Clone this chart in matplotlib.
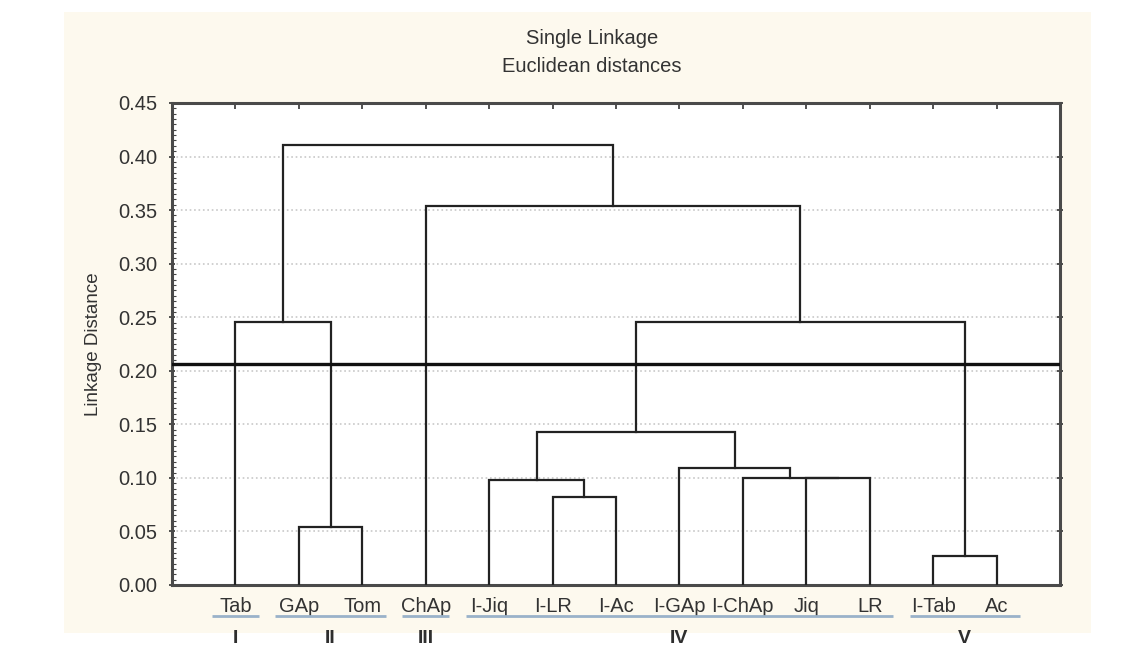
import numpy as np
import matplotlib
matplotlib.use("Agg")
import matplotlib.pyplot as plt
from matplotlib.patches import Rectangle
from matplotlib.transforms import blended_transform_factory

plt.rcParams['font.family'] = ['Liberation Sans', 'DejaVu Sans']

# leaves in dendrogram order
leaf_labels = ['Tab', 'GAp', 'Tom', 'ChAp', 'I-Jiq', 'I-LR', 'I-Ac',
               'I-GAp', 'I-ChAp', 'Jiq', 'LR', 'I-Tab', 'Ac']

# merges: (left node, right node, linkage distance); new nodes get ids 13, 14, ...
merge_left = [1, 0, 5, 4, 9, 8, 7, 16, 11, 20, 3, 14]
merge_right = [2, 13, 6, 15, 10, 17, 18, 19, 12, 21, 22, 23]
merge_height = [0.054, 0.2455, 0.082, 0.098, 0.0995, 0.0995, 0.109,
                0.143, 0.0275, 0.2455, 0.354, 0.411]

cut_height = 0.206

group_names = ['I', 'II', 'III', 'IV', 'V']
group_first = [0, 1, 3, 4, 11]
group_last = [0, 2, 3, 10, 12]

y_ticks = [0.00, 0.05, 0.10, 0.15, 0.20, 0.25, 0.30, 0.35, 0.40, 0.45]

W, H = 1135, 648
fig = plt.figure(figsize=(W / 100, H / 100), dpi=100)
fig.patch.set_facecolor('white')

# cream panel behind the plot
fig.patches.append(Rectangle((64 / W, 1 - 633 / H), (1091 - 64) / W, (633 - 12) / H,
                             transform=fig.transFigure, facecolor='#fdf9ee',
                             edgecolor='none', zorder=-10))

ax = fig.add_axes([172 / W, 1 - 585 / H, (1060 - 172) / W, (585 - 103) / H])
ax.set_facecolor('white')

# build the tree
n = len(leaf_labels)
xpos = {i: i + 1.0 for i in range(n)}
hpos = {i: 0.0 for i in range(n)}
line_col = '#222222'
for k, (a, b, h) in enumerate(zip(merge_left, merge_right, merge_height)):
    node = n + k
    ax.plot([xpos[a], xpos[a], xpos[b], xpos[b]], [hpos[a], h, h, hpos[b]],
            color=line_col, lw=1.6, solid_joinstyle='miter', zorder=3)
    xpos[node] = (xpos[a] + xpos[b]) / 2
    hpos[node] = h

ax.axhline(cut_height, color='#111111', lw=2.4, zorder=4)

ax.set_xlim(0, n + 1)
ax.set_ylim(0, 0.45)
ax.set_yticks(y_ticks)
ax.set_yticklabels(['%.2f' % v for v in y_ticks])
ax.set_yticks(np.arange(0, 0.4501, 0.005), minor=True)
ax.yaxis.grid(True, which='major', color='#c8c8c8', linestyle=':', lw=1.2, zorder=0)

ax.set_xticks(np.arange(1, n + 1))
ax.set_xticklabels(leaf_labels)
ax.tick_params(axis='x', which='both', bottom=False, top=True, direction='in',
               length=4, width=1.2, color='#333333', pad=9, labelsize=14.5,
               labelcolor='#333333')
ax.tick_params(axis='y', which='major', left=True, right=True, direction='inout',
               length=5, width=1.2, color='#333333', pad=8, labelsize=14.5,
               labelcolor='#333333')
ax.tick_params(axis='y', which='minor', left=True, right=False, direction='in',
               length=3, width=0.8, color='#444444')

for s in ax.spines.values():
    s.set_linewidth(2.2)
    s.set_color('#4a4a4a')

ax.set_ylabel('Linkage Distance', fontsize=13.5, color='#333333', labelpad=12)

# titles
cx = 592 / W
fig.text(cx, 1 - 38 / H, 'Single Linkage', ha='center', va='center',
         fontsize=14.5, color='#333333')
fig.text(cx, 1 - 67 / H, 'Euclidean distances', ha='center', va='center',
         fontsize=14.5, color='#333333')

# group underlines and roman numerals
tr = blended_transform_factory(ax.transData, ax.transAxes)
for name, i0, i1 in zip(group_names, group_first, group_last):
    x0, x1 = i0 + 1 - 0.37, i1 + 1 + 0.37
    ax.plot([x0, x1], [-0.064, -0.064], transform=tr, color='#9ab2c9', lw=2,
            clip_on=False, solid_capstyle='butt')
    ax.text((i0 + i1) / 2 + 1, -0.112, name, transform=tr, ha='center', va='center',
            fontsize=14, fontweight='heavy', color='#2e2e2e')

fig.savefig('out.png', dpi=100, facecolor=fig.get_facecolor())
